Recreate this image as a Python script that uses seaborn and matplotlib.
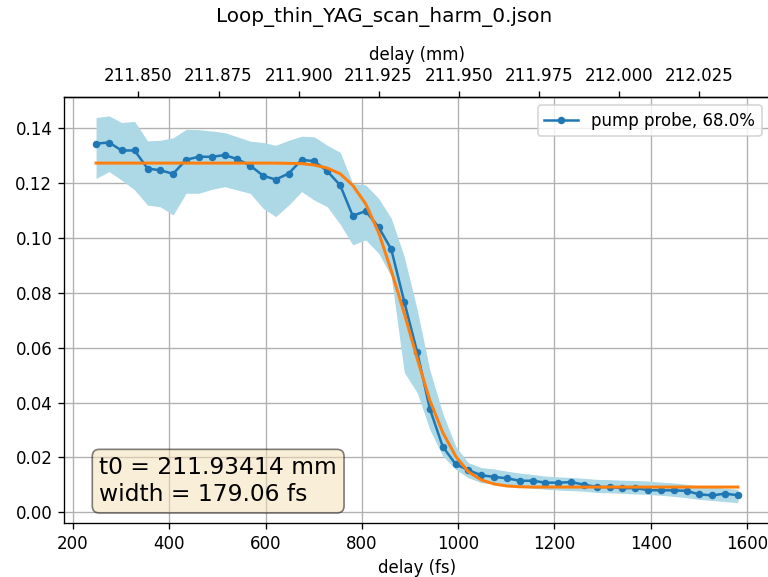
import numpy as np
import pandas as pd
import matplotlib
matplotlib.use("Agg")
import matplotlib.pyplot as plt
import seaborn as sns
from matplotlib.ticker import MultipleLocator, FormatStrFormatter, FixedLocator

title = "Loop_thin_YAG_scan_harm_0.json"
legend_label = "pump probe, 68.0%"
fit_text = "t0 = 211.93414 mm\nwidth = 179.06 fs"
top_ticks_mm = [211.850, 211.875, 211.900, 211.925, 211.950, 211.975, 212.000, 212.025]

delay_fs = [248, 275, 301, 328, 355, 381, 408, 435, 461, 488, 515, 541, 568, 595, 621,
            648, 675, 701, 728, 755, 781, 808, 835, 861, 888, 915, 941, 968, 995, 1021,
            1048, 1075, 1101, 1128, 1155, 1181, 1208, 1235, 1261, 1288, 1315, 1341, 1368,
            1395, 1421, 1448, 1475, 1501, 1528, 1555, 1581]
signal = [0.1344, 0.1348, 0.1319, 0.1319, 0.1253, 0.1247, 0.1234, 0.1285, 0.1296, 0.1296,
          0.1302, 0.1288, 0.1264, 0.1227, 0.1213, 0.1235, 0.1285, 0.1280, 0.1244, 0.1192,
          0.1081, 0.1098, 0.1039, 0.0959, 0.0768, 0.0583, 0.0378, 0.0239, 0.0175, 0.0154,
          0.0135, 0.0129, 0.0124, 0.0115, 0.0115, 0.0108, 0.0108, 0.0110, 0.0101, 0.0092,
          0.0092, 0.0088, 0.0088, 0.0081, 0.0080, 0.0080, 0.0078, 0.0065, 0.0062, 0.0068,
          0.0062]
band_hi = [0.1439, 0.1445, 0.1421, 0.1425, 0.1354, 0.1356, 0.1365, 0.1396, 0.1395, 0.1390,
           0.1384, 0.1369, 0.1353, 0.1348, 0.1338, 0.1356, 0.1371, 0.1369, 0.1338, 0.1312,
           0.1199, 0.1193, 0.1144, 0.1072, 0.0932, 0.0738, 0.0520, 0.0360, 0.0240, 0.0181,
           0.0163, 0.0158, 0.0150, 0.0143, 0.0138, 0.0132, 0.0129, 0.0127, 0.0124, 0.0120,
           0.0119, 0.0117, 0.0116, 0.0114, 0.0110, 0.0107, 0.0102, 0.0096, 0.0092, 0.0088,
           0.0084]
band_lo = [0.1217, 0.1242, 0.1211, 0.1175, 0.1120, 0.1114, 0.1084, 0.1163, 0.1163, 0.1177,
           0.1187, 0.1175, 0.1163, 0.1108, 0.1078, 0.1120, 0.1169, 0.1138, 0.1114, 0.1050,
           0.0975, 0.0993, 0.0944, 0.0860, 0.0510, 0.0436, 0.0302, 0.0205, 0.0156, 0.0126,
           0.0108, 0.0103, 0.0096, 0.0091, 0.0088, 0.0084, 0.0081, 0.0079, 0.0077, 0.0072,
           0.0071, 0.0069, 0.0067, 0.0065, 0.0062, 0.0058, 0.0053, 0.0047, 0.0043, 0.0039,
           0.0035]
fit_y = [0.1273, 0.1273, 0.1273, 0.1273, 0.1273, 0.1273, 0.1273, 0.1273, 0.1273, 0.1273,
         0.1273, 0.1273, 0.1273, 0.1273, 0.1273, 0.1272, 0.1271, 0.1266, 0.1255, 0.1234,
         0.1192, 0.1124, 0.1019, 0.0881, 0.0726, 0.0560, 0.0409, 0.0291, 0.0204, 0.0148,
         0.0118, 0.0103, 0.0096, 0.0093, 0.0092, 0.0092, 0.0092, 0.0092, 0.0092, 0.0092,
         0.0092, 0.0092, 0.0092, 0.0092, 0.0092, 0.0092, 0.0092, 0.0092, 0.0092, 0.0092,
         0.0092]

df = pd.DataFrame({"delay": delay_fs, "signal": signal, "hi": band_hi, "lo": band_lo, "fit": fit_y})

# mm <-> fs conversion for the top axis
MM0 = 211.79945
MM_PER_FS = 1.504e-4

def fs2mm(x):
    return MM0 + np.asarray(x) * MM_PER_FS

def mm2fs(m):
    return (np.asarray(m) - MM0) / MM_PER_FS

plt.rcParams['font.family'] = ['DejaVu Sans']

W, H = 768, 577
fig = plt.figure(figsize=(W / 120, H / 120), dpi=120)
ax = fig.add_axes([64 / W, 1 - 523 / H, (770 - 64) / W, (523 - 96.7) / H])

ax.fill_between(df["delay"], df["lo"], df["hi"], color="lightblue", linewidth=0, zorder=1)
sns.lineplot(data=df, x="delay", y="signal", ax=ax, color="tab:blue", marker="o",
             markersize=4.5, markeredgewidth=0, linewidth=1.5, label=legend_label, zorder=3)
sns.lineplot(data=df, x="delay", y="fit", ax=ax, color="tab:orange", linewidth=1.8,
             legend=False, zorder=4)

ax.set_xlim(181.4, 1647.6)
ax.set_ylim(-0.0039, 0.1515)
ax.xaxis.set_major_locator(MultipleLocator(200))
ax.yaxis.set_major_locator(MultipleLocator(0.02))
ax.yaxis.set_major_formatter(FormatStrFormatter("%.2f"))
ax.grid(True, color="#b0b0b0", linewidth=0.8)
ax.set_axisbelow(True)
ax.set_xlabel("delay (fs)", fontsize=10)
ax.set_ylabel("")

sec = ax.secondary_xaxis("top", functions=(fs2mm, mm2fs))
sec.xaxis.set_major_locator(FixedLocator(top_ticks_mm))
sec.xaxis.set_major_formatter(FormatStrFormatter("%.3f"))
sec.set_xlabel("delay (mm)", fontsize=10)

ax.legend(loc="upper right", fontsize=10, frameon=True)

ax.text(0.05, 0.04, fit_text, transform=ax.transAxes, fontsize=14, va="bottom", ha="left",
        bbox=dict(boxstyle="round", facecolor="wheat", edgecolor="black", alpha=0.5), zorder=5)

fig.text(0.5, 1 - 17 / H, title, fontsize=12, ha="center", va="center")

fig.savefig("out.png", dpi=120)
